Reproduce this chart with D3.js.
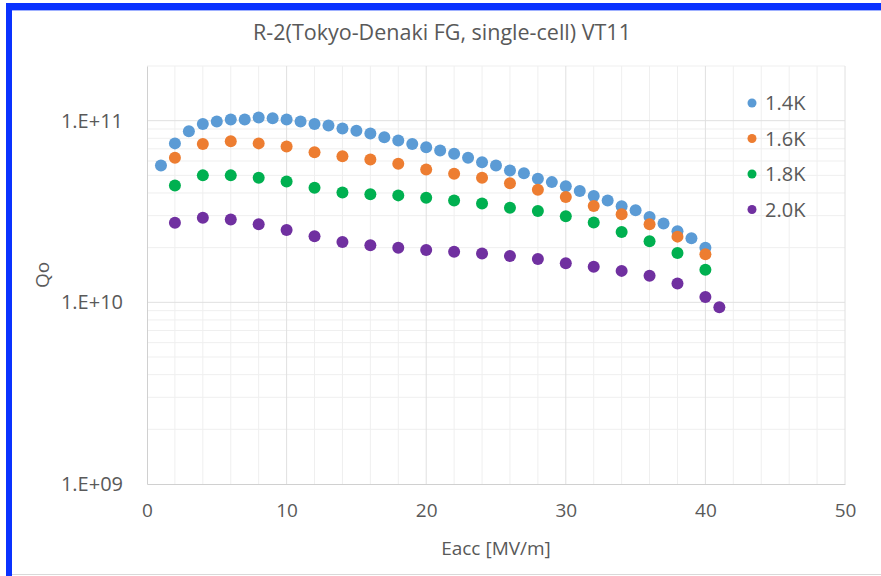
<!DOCTYPE html>
<html>
<head>
<meta charset="utf-8">
<script src="https://cdn.jsdelivr.net/npm/d3@7"></script>
<style>
  html, body { margin: 0; padding: 0; background: #fff; }
  svg { display: block; font-family: "Open Sans", "Noto Sans", sans-serif; }
</style>
</head>
<body>
<div id="chart"></div>
<script>
const chartTitle = "R-2(Tokyo-Denaki FG, single-cell) VT11";
const xTitle = "Eacc [MV/m]";
const yTitle = "Qo";

const seriesNames = ["1.4K", "1.6K", "1.8K", "2.0K"];
const seriesColors = ["#5b9bd5", "#ed7d31", "#00b050", "#7030a0"];

const xTicks = [0, 10, 20, 30, 40, 50];
const yTicks = [1e9, 1e10, 1e11];
const yTickLabels = ["1.E+09", "1.E+10", "1.E+11"];

// 1.4K
const eacc14 = [1, 2, 3, 4, 5, 6, 7, 8, 9, 10, 11, 12, 13, 14, 15, 16, 17, 18, 19, 20,
    21, 22, 23, 24, 25, 26, 27, 28, 29, 30, 31, 32, 33, 34, 35, 36, 37, 38, 39, 40];
const q14 = [5.67e10, 7.5e10, 8.75e10, 9.6e10, 9.9e10, 1.016e11, 1.016e11, 1.04e11, 1.03e11, 1.016e11,
    9.9e10, 9.6e10, 9.42e10, 9.07e10, 8.8e10, 8.5e10, 8.1e10, 7.77e10, 7.45e10, 7.14e10,
    6.85e10, 6.57e10, 6.25e10, 5.91e10, 5.67e10, 5.32e10, 5.14e10, 4.79e10, 4.59e10, 4.35e10,
    4.1e10, 3.85e10, 3.64e10, 3.38e10, 3.21e10, 2.95e10, 2.72e10, 2.46e10, 2.25e10, 2.0e10];

// 1.6K
const eacc16 = [2, 4, 6, 8, 10, 12, 14, 16, 18, 20, 22, 24, 26, 28, 30, 32, 34, 36, 38, 40];
const q16 = [6.25e10, 7.45e10, 7.7e10, 7.5e10, 7.2e10, 6.7e10, 6.37e10, 6.11e10, 5.79e10, 5.39e10,
    5.1e10, 4.85e10, 4.53e10, 4.17e10, 3.8e10, 3.39e10, 3.05e10, 2.69e10, 2.3e10, 1.84e10];

// 1.8K
const eacc18 = [2, 4, 6, 8, 10, 12, 14, 16, 18, 20, 22, 24, 26, 28, 30, 32, 34, 36, 38, 40];
const q18 = [4.4e10, 5.0e10, 5.0e10, 4.85e10, 4.63e10, 4.28e10, 4.03e10, 3.93e10, 3.88e10, 3.77e10,
    3.64e10, 3.5e10, 3.32e10, 3.18e10, 2.98e10, 2.75e10, 2.44e10, 2.17e10, 1.87e10, 1.51e10];

// 2.0K
const eacc20 = [2, 4, 6, 8, 10, 12, 14, 16, 18, 20, 22, 24, 26, 28, 30, 32, 34, 36, 38, 40, 41];
const q20 = [2.74e10, 2.92e10, 2.86e10, 2.69e10, 2.5e10, 2.31e10, 2.15e10, 2.06e10, 2.0e10, 1.94e10,
    1.9e10, 1.86e10, 1.8e10, 1.73e10, 1.64e10, 1.57e10, 1.49e10, 1.4e10, 1.27e10, 1.07e10, 9.4e9];

const series = [
    {name: seriesNames[0], color: seriesColors[0], x: eacc14, y: q14},
    {name: seriesNames[1], color: seriesColors[1], x: eacc16, y: q16},
    {name: seriesNames[2], color: seriesColors[2], x: eacc18, y: q18},
    {name: seriesNames[3], color: seriesColors[3], x: eacc20, y: q20}
];

const W = 881, H = 576;
const margin = {top: 66, right: 36, bottom: 92, left: 147},
    width = W - margin.left - margin.right,
    height = H - margin.top - margin.bottom;
const textColor = "#595959";

const root = d3.select("#chart").append("svg")
    .attr("width", W).attr("height", H);

// screenshot frame: blue bar on top and left, grey line at the bottom
root.append("rect").attr("x", 0).attr("y", 0).attr("width", W).attr("height", H).attr("fill", "#fff");
root.append("rect").attr("x", 6).attr("y", 3).attr("width", W - 6).attr("height", 7).attr("fill", "#0a32ff");
root.append("rect").attr("x", 6).attr("y", 3).attr("width", 6).attr("height", H - 3).attr("fill", "#0a32ff");
root.append("line").attr("x1", 12).attr("x2", W).attr("y1", 10.5).attr("y2", 10.5)
    .attr("stroke", "#9fb0ff").attr("stroke-width", 1);
root.append("line").attr("x1", 12).attr("x2", W).attr("y1", 574.5).attr("y2", 574.5)
    .attr("stroke", "#d9d9d9").attr("stroke-width", 1);

root.append("text")
    .attr("x", 442).attr("y", 40)
    .attr("text-anchor", "middle")
    .attr("fill", textColor)
    .style("font-size", "21.5px")
    .text(chartTitle);

const svg = root.append("g")
    .attr("transform", `translate(${margin.left},${margin.top})`);

const x = d3.scaleLinear().domain([0, 50]).range([0, width]);
const y = d3.scaleLog().domain([1e9, 2e11]).range([height, 0]);

// minor vertical grid every 2
const xMinor = d3.range(2, 50, 2).filter(v => v % 10 !== 0);
svg.append("g").selectAll("line").data(xMinor).join("line")
    .attr("x1", d => x(d)).attr("x2", d => x(d))
    .attr("y1", 0).attr("y2", height)
    .attr("stroke", "#efefef").attr("stroke-width", 1);
// minor horizontal grid 2..9 per decade
const yMinor = [];
[1e9, 1e10, 1e11].forEach(dec => {
    for (let k = 2; k <= 9; k++) if (dec * k <= 2e11) yMinor.push(dec * k);
});
svg.append("g").selectAll("line").data(yMinor).join("line")
    .attr("x1", 0).attr("x2", width)
    .attr("y1", d => y(d)).attr("y2", d => y(d))
    .attr("stroke", "#efefef").attr("stroke-width", 1);

// major grid
svg.append("g").selectAll("line").data(xTicks.slice(1)).join("line")
    .attr("x1", d => x(d)).attr("x2", d => x(d))
    .attr("y1", 0).attr("y2", height)
    .attr("stroke", "#e0e0e0").attr("stroke-width", 1);
svg.append("g").selectAll("line").data(yTicks.slice(1)).join("line")
    .attr("x1", 0).attr("x2", width)
    .attr("y1", d => y(d)).attr("y2", d => y(d))
    .attr("stroke", "#e0e0e0").attr("stroke-width", 1);

// axes
const xAxis = svg.append("g")
    .attr("transform", `translate(0,${height})`)
    .call(d3.axisBottom(x).tickValues(xTicks).tickSize(0).tickPadding(20));
xAxis.select(".domain").attr("stroke", "#d0d0d0");
xAxis.selectAll("text").attr("fill", textColor).style("font-size", "19px")
    .style("font-family", "'Open Sans', sans-serif");

const yAxis = svg.append("g")
    .call(d3.axisLeft(y).tickValues(yTicks).tickFormat((d, i) => yTickLabels[i]).tickSize(0).tickPadding(24));
yAxis.select(".domain").attr("stroke", "#d0d0d0");
yAxis.selectAll("text").attr("fill", textColor).style("font-size", "20px")
    .style("font-family", "'Open Sans', sans-serif");

svg.append("text")
    .attr("x", width / 2).attr("y", height + 71)
    .attr("text-anchor", "middle")
    .attr("fill", textColor)
    .style("font-size", "19px")
    .text(xTitle);
svg.append("text")
    .attr("transform", `translate(${-98},${height / 2}) rotate(-90)`)
    .attr("text-anchor", "middle")
    .attr("fill", textColor)
    .style("font-size", "19px")
    .text(yTitle);

// points
series.forEach(s => {
    svg.append("g").selectAll("circle")
        .data(s.x.map((v, i) => ({x: v, y: s.y[i]})))
        .join("circle")
        .attr("cx", d => x(d.x))
        .attr("cy", d => y(d.y))
        .attr("r", 6)
        .attr("fill", s.color);
});

// legend
const legend = svg.append("g").attr("transform", `translate(${752 - margin.left},${103 - margin.top})`);
series.forEach((s, i) => {
    const g = legend.append("g").attr("transform", `translate(0,${i * 35.5})`);
    g.append("circle").attr("r", 4.5).attr("fill", s.color);
    g.append("text").attr("x", 13).attr("y", 0).attr("dy", "0.36em")
        .attr("fill", textColor).style("font-size", "20px").text(s.name);
});
</script>
</body>
</html>
